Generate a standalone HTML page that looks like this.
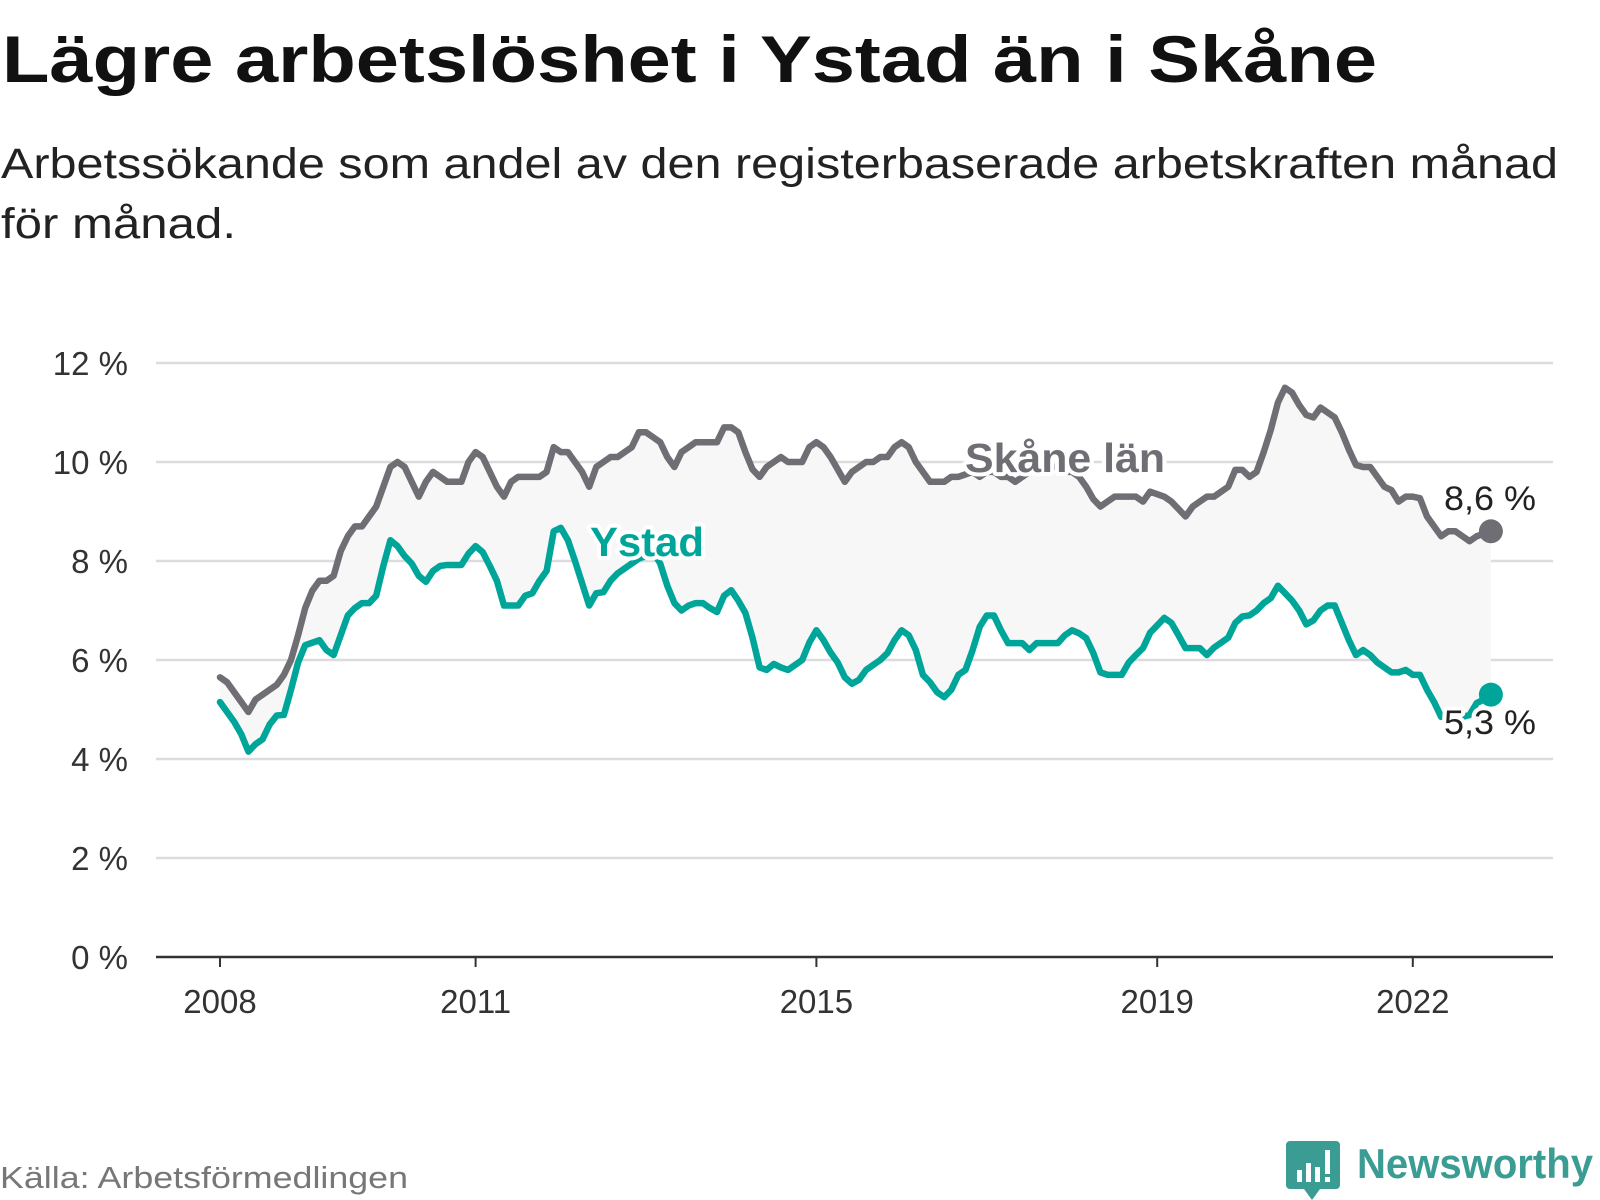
<!DOCTYPE html>
<html><head><meta charset="utf-8"><style>
html,body{margin:0;padding:0;background:#fff;}
svg{display:block;font-family:"Liberation Sans",sans-serif;}
</style></head><body>
<svg id="chart" width="1600" height="1200" viewBox="0 0 1600 1200" xmlns="http://www.w3.org/2000/svg">
<text x="2" y="82" font-size="66" font-weight="bold" fill="#111" textLength="1375" lengthAdjust="spacingAndGlyphs">Lägre arbetslöshet i Ystad än i Skåne</text>
<text x="1" y="178" font-size="43" fill="#222" textLength="1557" lengthAdjust="spacingAndGlyphs">Arbetssökande som andel av den registerbaserade arbetskraften månad</text>
<text x="1" y="238" font-size="43" fill="#222" textLength="235" lengthAdjust="spacingAndGlyphs">för månad.</text>
<g id="grid"></g>
<g id="plot"></g>
<text x="0" y="1188" font-size="31" fill="#777" textLength="408" lengthAdjust="spacingAndGlyphs">Källa: Arbetsförmedlingen</text>
<g>
<path d="M1290 1141 h46 a4 4 0 0 1 4 4 v40 a4 4 0 0 1 -4 4 h-16 l-8 11 l-8 -11 h-14 a4 4 0 0 1 -4 -4 v-40 a4 4 0 0 1 4 -4z" fill="#3a9c92"/>
<rect x="1297" y="1170" width="5" height="12" fill="#fff"/>
<rect x="1306" y="1163" width="5" height="19" fill="#fff"/>
<rect x="1315" y="1167" width="5" height="15" fill="#fff"/>
<rect x="1325" y="1150" width="5" height="24" fill="#fff"/>
<rect x="1325" y="1177" width="5" height="5" fill="#fff"/>
<text x="1357" y="1178" font-size="42" font-weight="bold" fill="#3a9c92" textLength="236" lengthAdjust="spacingAndGlyphs">Newsworthy</text>
</g>
</svg>
<script>
const skane = [
5.65,5.55,5.35,5.15,4.95,5.2,5.3,5.4,5.5,5.7,6.0,6.5,
7.05,7.4,7.6,7.6,7.7,8.2,8.5,8.7,8.7,8.9,9.1,9.5,
9.9,10.0,9.9,9.6,9.3,9.6,9.8,9.7,9.6,9.6,9.6,10.0,
10.2,10.1,9.8,9.5,9.3,9.6,9.7,9.7,9.7,9.7,9.8,10.3,
10.2,10.2,10.0,9.8,9.5,9.9,10.0,10.1,10.1,10.2,10.3,10.6,
10.6,10.5,10.4,10.1,9.9,10.2,10.3,10.4,10.4,10.4,10.4,10.7,
10.7,10.6,10.2,9.85,9.7,9.9,10.0,10.1,10.0,10.0,10.0,10.3,
10.4,10.3,10.1,9.85,9.6,9.8,9.9,10.0,10.0,10.1,10.1,10.3,
10.4,10.3,10.0,9.8,9.6,9.6,9.6,9.7,9.7,9.75,9.8,9.7,
9.8,9.8,9.7,9.7,9.6,9.7,9.8,9.9,9.9,9.9,9.9,9.8,
9.8,9.7,9.5,9.25,9.1,9.2,9.3,9.3,9.3,9.3,9.2,9.4,
9.35,9.3,9.2,9.05,8.9,9.1,9.2,9.3,9.3,9.4,9.5,9.84,
9.84,9.7,9.8,10.2,10.65,11.2,11.5,11.4,11.15,10.95,10.9,11.1,
11.0,10.9,10.6,10.25,9.94,9.9,9.9,9.7,9.5,9.43,9.2,9.3,
9.3,9.27,8.9,8.7,8.5,8.6,8.6,8.5,8.4,8.5,8.55,8.6];
const ystad = [
5.15,4.95,4.75,4.5,4.15,4.3,4.4,4.7,4.88,4.89,5.4,5.95,
6.3,6.35,6.4,6.2,6.1,6.5,6.9,7.05,7.15,7.15,7.3,7.9,
8.42,8.3,8.1,7.95,7.7,7.58,7.8,7.9,7.92,7.92,7.92,8.15,
8.3,8.18,7.9,7.6,7.1,7.1,7.1,7.3,7.35,7.6,7.8,8.6,
8.67,8.42,8.0,7.55,7.1,7.35,7.37,7.6,7.75,7.85,7.95,8.05,
8.1,8.2,7.95,7.5,7.15,7.0,7.1,7.15,7.15,7.05,6.97,7.3,
7.41,7.2,6.95,6.45,5.85,5.8,5.92,5.85,5.8,5.9,6.0,6.35,
6.6,6.4,6.15,5.95,5.65,5.52,5.6,5.8,5.9,6.0,6.14,6.4,
6.6,6.5,6.2,5.7,5.55,5.35,5.25,5.4,5.7,5.8,6.2,6.67,
6.9,6.9,6.6,6.34,6.34,6.34,6.2,6.34,6.34,6.34,6.34,6.5,
6.6,6.54,6.44,6.14,5.75,5.7,5.7,5.7,5.95,6.1,6.24,6.55,
6.7,6.85,6.75,6.5,6.24,6.24,6.24,6.1,6.25,6.35,6.45,6.75,
6.88,6.9,7.0,7.15,7.25,7.5,7.35,7.2,7.0,6.72,6.8,7.0,
7.1,7.1,6.75,6.4,6.1,6.2,6.1,5.95,5.85,5.75,5.75,5.8,
5.7,5.7,5.4,5.15,4.85,4.9,4.85,4.85,4.89,5.13,5.2,5.3];
const yTicks = [0,2,4,6,8,10,12];
const yTickLabels = ["0 %","2 %","4 %","6 %","8 %","10 %","12 %"];
const xTickYears = [2008,2011,2015,2019,2022];
const startYear = 2008;

const NS="http://www.w3.org/2000/svg";
const X0=220, PX_YEAR=85.2, Y0=957, PX_PCT=49.5;
function xScale(i){return X0+i*PX_YEAR/12;}
function yScale(v){return Y0-v*PX_PCT;}
function mk(tag,attrs,parent){const e=document.createElementNS(NS,tag);for(const k in attrs)e.setAttribute(k,attrs[k]);parent.appendChild(e);return e;}
const grid=document.getElementById('grid'), plot=document.getElementById('plot');

yTicks.forEach((t,i)=>{
  if(t>0){const l=mk('line',{x1:156,x2:1553,y1:yScale(t),y2:yScale(t),stroke:'#dcdcdc','stroke-width':2.5},grid);
  
  }
  const tx=mk('text',{x:128,y:yScale(t)+12,'text-anchor':'end','font-size':33,fill:'#333'},grid);
  tx.textContent=yTickLabels[i];
  
  
});

let pts=skane.map((v,i)=>xScale(i)+','+yScale(v));
for(let i=ystad.length-1;i>=0;i--)pts.push(xScale(i)+','+yScale(ystad[i]));
const area=mk('polygon',{points:pts.join(' '),fill:'#f7f7f7'},plot);



const axis=mk('line',{x1:156,x2:1553,y1:Y0,y2:Y0,stroke:'#333','stroke-width':2.5},plot);


xTickYears.forEach(yr=>{
  const x=xScale((yr-startYear)*12);
  const tk=mk('line',{x1:x,x2:x,y1:Y0,y2:Y0+10,stroke:'#333','stroke-width':2},plot);
  
  
  const t=mk('text',{x:x,y:1013,'text-anchor':'middle','font-size':33,fill:'#333'},plot);
  t.textContent=yr;
  
  
});

function line(data,color,name){
  const p=mk('polyline',{points:data.map((v,i)=>xScale(i)+','+yScale(v)).join(' '),fill:'none',stroke:color,'stroke-width':6.5,'stroke-linejoin':'round','stroke-linecap':'round'},plot);
  
  
  const n=data.length-1;
  const c=mk('circle',{cx:xScale(n),cy:yScale(data[n]),r:12,fill:color},plot);
  
  
}
line(skane,'#6f6e74','skane-line');
line(ystad,'#00a59a','ystad-line');

function label(txt,x,y,size,color,bold,name,len){
  const t=mk('text',{x:x,y:y,'font-size':size,fill:color,'font-weight':bold?'bold':'normal',stroke:'#fff','stroke-width':8,'stroke-linejoin':'round','paint-order':'stroke',textLength:len,lengthAdjust:'spacingAndGlyphs'},plot);
  t.textContent=txt;
  
  
}
label('Skåne län',965,472,41,'#6f6e74',true,'skane-series-label',200);
label('Ystad',590,556,41,'#00a59a',true,'ystad-series-label',114);
label('8,6 %',1444,510,34,'#222',false,'skane-end-value',92);
label('5,3 %',1444,734,34,'#222',false,'ystad-end-value',92);
</script>
</body></html>
